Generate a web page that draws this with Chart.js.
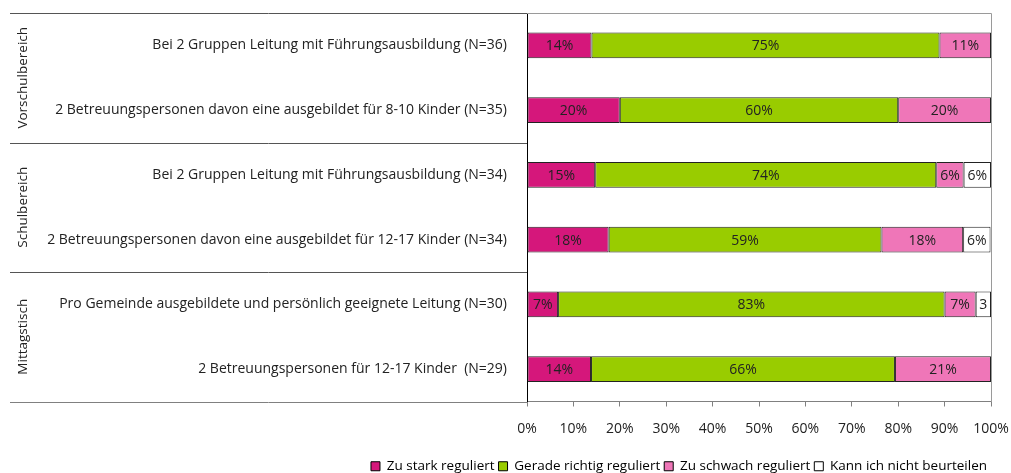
<!DOCTYPE html>
<html><head><meta charset="utf-8">
<script src="https://cdn.jsdelivr.net/npm/chart.js@4.4.1/dist/chart.umd.min.js"></script>
<style>html,body{margin:0;padding:0;background:#fff}#wrap{width:1011px;height:473px}</style>
</head><body><div id="wrap"><canvas id="c"></canvas></div>
<script>
const categories = [
  "Bei 2 Gruppen Leitung mit Führungsausbildung (N=36)",
  "2 Betreuungspersonen davon eine ausgebildet für 8-10 Kinder (N=35)",
  "Bei 2 Gruppen Leitung mit Führungsausbildung (N=34)",
  "2 Betreuungspersonen davon eine ausgebildet für 12-17 Kinder (N=34)",
  "Pro Gemeinde ausgebildete und persönlich geeignete Leitung (N=30)",
  "2 Betreuungspersonen für 12-17 Kinder  (N=29)"
];
const groups = ["Vorschulbereich", "Schulbereich", "Mittagstisch"];
const groupSizes = [2, 2, 2];
const seriesNames = ["Zu stark reguliert", "Gerade richtig reguliert", "Zu schwach reguliert", "Kann ich nicht beurteilen"];
const zuStark = [13.9, 20.0, 14.7, 17.6, 6.7, 13.8];
const geradeRichtig = [75.0, 60.0, 73.5, 58.8, 83.3, 65.5];
const zuSchwach = [11.1, 20.0, 5.9, 17.6, 6.7, 20.7];
const kannNicht = [0, 0, 5.9, 5.9, 3.3, 0];
const xTicks = [0, 10, 20, 30, 40, 50, 60, 70, 80, 90, 100];
const colors = ["#D5177B", "#99CC00", "#EF76B8", "#FFFFFF"];

const FONT = "'Open Sans', Lato, sans-serif";
const TXT = "#222";

const seriesValues = [zuStark, geradeRichtig, zuSchwach, kannNicht];

const decoPlugin = {
  id: 'deco',
  afterDraw(chart) {
    const ctx = chart.ctx, ca = chart.chartArea, y = chart.scales.y;
    ctx.save();
    ctx.strokeStyle = "#9a9a9a"; ctx.lineWidth = 1;
    ctx.beginPath();
    ctx.moveTo(ca.left, Math.round(ca.top) + 0.5); ctx.lineTo(Math.round(ca.right) + 0.5, Math.round(ca.top) + 0.5);
    ctx.lineTo(Math.round(ca.right) + 0.5, Math.round(ca.bottom));
    ctx.stroke();
    const step = y.getPixelForValue(1) - y.getPixelForValue(0);
    let idx = 0;
    const bounds = [y.getPixelForValue(0) - step / 2];
    groupSizes.forEach(s => { idx += s; bounds.push(y.getPixelForValue(idx - 1) + step / 2); });
    bounds.forEach((b, i) => {
      const yy = Math.round(b) + 0.5;
      ctx.strokeStyle = (i === bounds.length - 1) ? "#808080" : "#555";
      ctx.beginPath();
      ctx.moveTo(10, yy);
      ctx.lineTo(ca.left, yy);
      ctx.stroke();
    });
    ctx.fillStyle = TXT;
    ctx.font = "13.5px " + FONT;
    ctx.textAlign = "center"; ctx.textBaseline = "middle";
    groups.forEach((g, i) => {
      const cy = (bounds[i] + bounds[i + 1]) / 2;
      ctx.save();
      ctx.translate(23, cy);
      ctx.rotate(-Math.PI / 2);
      ctx.fillText(g, 0, 0);
      ctx.restore();
    });
    ctx.font = "14px " + FONT;
    chart.data.datasets.forEach((ds, di) => {
      const meta = chart.getDatasetMeta(di);
      meta.data.forEach((bar, i) => {
        const v = ds.data[i];
        if (!v) return;
        const w = Math.abs(bar.x - bar.base);
        let t = Math.round(v) + "%";
        if (ctx.measureText(t).width > w - 3) t = String(Math.round(v));
        ctx.fillText(t, (bar.x + bar.base) / 2, bar.y + 1);
      });
    });
    ctx.restore();
  }
};

new Chart(document.getElementById('c'), {
  type: 'bar',
  data: {
    labels: categories,
    datasets: seriesNames.map((n, i) => ({
      label: n,
      data: seriesValues[i],
      backgroundColor: colors[i],
      borderColor: "#222",
      borderWidth: 1,
      borderSkipped: false,
      categoryPercentage: 1,
      barPercentage: 0.4
    }))
  },
  options: {
    indexAxis: 'y',
    responsive: true,
    maintainAspectRatio: false,
    animation: false,
    layout: { padding: { top: 13, right: 20, left: 0, bottom: -10 } },
    scales: {
      x: {
        stacked: true, min: 0, max: 100,
        afterBuildTicks(s) { s.ticks = xTicks.map(v => ({ value: v })); },
        afterFit(s) { s.height = 54; s.paddingLeft = 0; s.paddingRight = 0; },
        grid: { drawOnChartArea: false, drawTicks: true, tickLength: 5, color: "#808080" },
        border: { color: "#808080" },
        ticks: { callback: v => v + "%", color: TXT, font: { family: FONT, size: 14 }, padding: 14, maxRotation: 0 }
      },
      y: {
        stacked: true,
        afterFit(s) { s.width = 527; s.paddingTop = 0; s.paddingBottom = 0; },
        grid: { display: false },
        border: { display: true, color: "#000" },
        ticks: { color: TXT, font: { family: FONT, size: 14 }, padding: 12 }
      }
    },
    plugins: {
      legend: {
        position: 'bottom', align: 'end',
        labels: {
          color: TXT, font: { family: FONT, size: 13.5 },
          boxWidth: 9, boxHeight: 9, padding: 4,
          generateLabels(chart) {
            return chart.data.datasets.map((d, i) => ({
              text: d.label, fillStyle: d.backgroundColor, strokeStyle: "#000", lineWidth: 1, datasetIndex: i, hidden: false
            }));
          }
        }
      },
      tooltip: { enabled: false }
    }
  },
  plugins: [decoPlugin]
});
</script></body></html>
